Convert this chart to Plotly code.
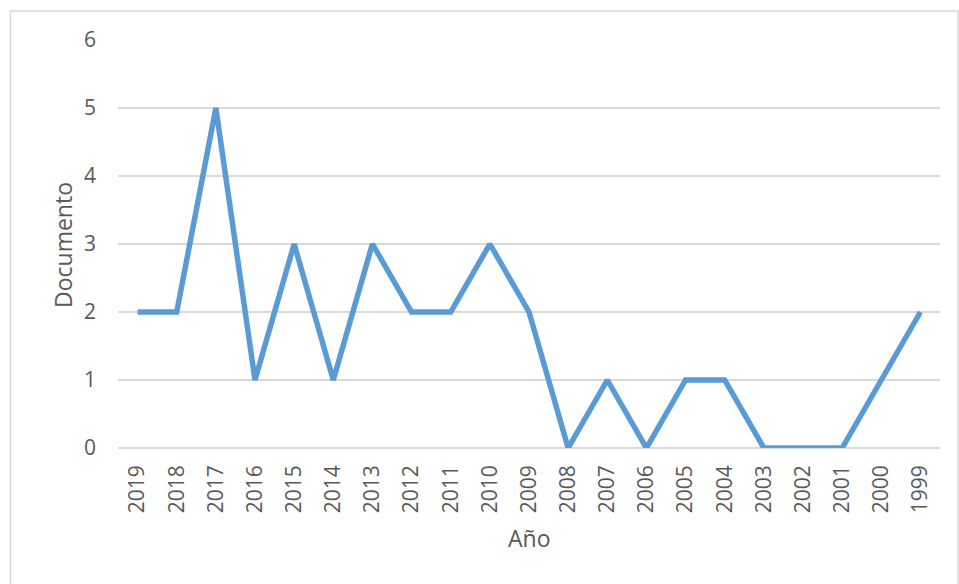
import plotly.graph_objects as go

years = ["2019", "2018", "2017", "2016", "2015", "2014", "2013", "2012", "2011", "2010",
         "2009", "2008", "2007", "2006", "2005", "2004", "2003", "2002", "2001", "2000", "1999"]
documentos = [2, 2, 5, 1, 3, 1, 3, 2, 2, 3, 2, 0, 1, 0, 1, 1, 0, 0, 0, 1, 2]
y_ticks = [0, 1, 2, 3, 4, 5, 6]

W, H = 959, 584
L, R, T, B = 118, 19, 40, 136
pw, ph = W - L - R, H - T - B

def px(x):
    return (x - L) / pw

def py(y):
    return (H - B - y) / ph

fig = go.Figure()
fig.add_trace(go.Scatter(
    x=years, y=documentos, mode="lines",
    line=dict(color="#5b9bd5", width=5.5),
    hoverinfo="x+y",
))

font_color = "#595959"
fig.update_layout(
    width=W, height=H,
    margin=dict(l=L, r=R, t=T, b=B, autoexpand=False),
    paper_bgcolor="white", plot_bgcolor="white",
    font=dict(family="Open Sans", size=21, color=font_color),
    showlegend=False,
    xaxis=dict(
        type="category", range=[-0.5, len(years) - 0.5],
        tickangle=-90, showgrid=False, showline=False, zeroline=False,
        ticks="", ticklabelstandoff=12,
        tickfont=dict(size=21, color=font_color),
    ),
    yaxis=dict(
        range=[0, 6], tickvals=y_ticks, showgrid=True, gridcolor="#d9d9d9", gridwidth=1.5,
        zeroline=True, zerolinecolor="#d9d9d9", zerolinewidth=1.5,
        showline=False, ticks="", ticklabelstandoff=21,
        tickfont=dict(size=21, color=font_color),
    ),
    shapes=[dict(
        type="rect", xref="paper", yref="paper",
        x0=px(10.5), x1=px(958), y0=py(600), y1=py(11),
        line=dict(color="#d9d9d9", width=1.5), fillcolor="rgba(0,0,0,0)", layer="below",
    )],
    annotations=[
        dict(text="Documento", xref="paper", yref="paper", x=px(63), y=py(245),
             textangle=-90, showarrow=False, font=dict(size=23, color=font_color),
             xanchor="center", yanchor="middle"),
        dict(text="Año", xref="paper", yref="paper", x=px(529), y=py(538),
             showarrow=False, font=dict(size=23, color=font_color),
             xanchor="center", yanchor="middle"),
    ],
)

fig.write_html("out.html", config={"displayModeBar": False},
               post_script="document.body.style.margin='0';")
